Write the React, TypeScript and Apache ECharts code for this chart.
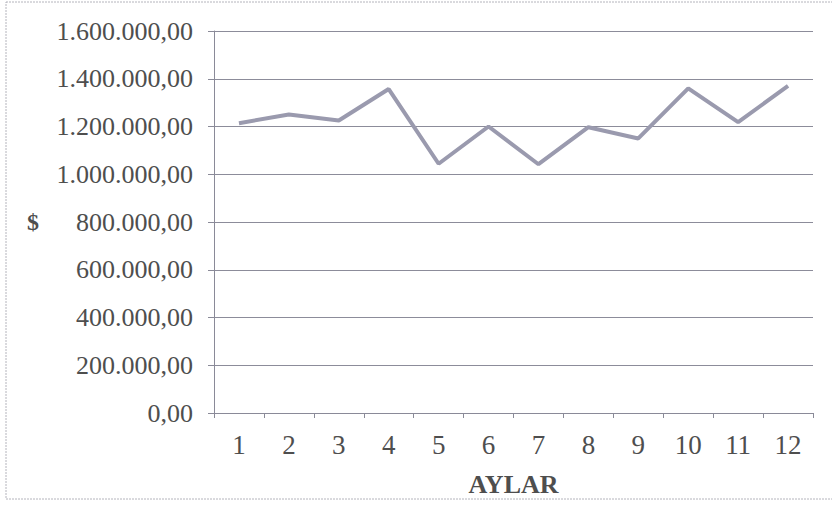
import React, { useEffect, useRef } from "react";
import * as echarts from "echarts";

const months = ["1", "2", "3", "4", "5", "6", "7", "8", "9", "10", "11", "12"];
const amounts = [
  1214000, 1250000, 1225000, 1357000, 1044000, 1200000, 1042000, 1197000, 1150000, 1360000,
  1218000, 1370000,
];
const yMin = 0;
const yMax = 1600000;
const yStep = 200000;

const FONT = "'Liberation Serif', 'Times New Roman', serif";
const TEXT = "#4e4e4e";

// 1600000 -> "1.600.000,00"
function trMoney(v: number): string {
  const [intPart, dec] = v.toFixed(2).split(".");
  const grouped = intPart.replace(/\B(?=(\d{3})+(?!\d))/g, ".");
  return `${grouped},${dec}`;
}

export default function App() {
  const ref = useRef<HTMLDivElement>(null);

  useEffect(() => {
    if (!ref.current) return;
    const chart = echarts.init(ref.current, undefined, { renderer: "svg" });
    chart.setOption({
      animation: false,
      backgroundColor: "#ffffff",
      grid: { left: 214, right: 19, top: 31, bottom: 93, containLabel: false },
      graphic: [
        {
          type: "rect",
          shape: { x: 6, y: 2, width: 840, height: 497 },
          style: { fill: "none", stroke: "#b4b4bc", lineWidth: 1, lineDash: [2, 1] },
          silent: true,
          z: -1,
        },
      ],
      xAxis: {
        type: "category",
        data: months,
        boundaryGap: true,
        name: "AYLAR",
        nameLocation: "middle",
        nameGap: 58,
        nameTextStyle: { fontFamily: FONT, fontSize: 26, fontWeight: "bold", color: TEXT },
        axisLine: { lineStyle: { color: "#8a8a98", width: 1 } },
        axisTick: { show: true, length: 5, lineStyle: { color: "#8a8a98" } },
        axisLabel: { fontFamily: FONT, fontSize: 27, color: TEXT, margin: 18 },
        splitLine: { show: false },
      },
      yAxis: {
        type: "value",
        min: yMin,
        max: yMax,
        interval: yStep,
        name: "$",
        nameLocation: "middle",
        nameRotate: 0,
        nameGap: 175,
        nameTextStyle: { fontFamily: FONT, fontSize: 24, fontWeight: "bold", color: TEXT },
        axisLine: { show: true, lineStyle: { color: "#8a8a98", width: 1 } },
        axisTick: { show: true, length: 6, lineStyle: { color: "#8a8a98" } },
        axisLabel: {
          fontFamily: FONT,
          fontSize: 26,
          color: TEXT,
          margin: 21,
          formatter: (v: number) => trMoney(v),
        },
        splitLine: { show: true, lineStyle: { color: "#8c8c9a", width: 1 } },
      },
      series: [
        {
          type: "line",
          data: amounts,
          symbol: "none",
          lineStyle: { color: "#9a9aae", width: 4 },
        },
      ],
    });
    return () => chart.dispose();
  }, []);

  return (
    <div
      ref={ref}
      style={{ position: "fixed", left: 0, top: 0, width: 832, height: 506, background: "#fff" }}
    />
  );
}
